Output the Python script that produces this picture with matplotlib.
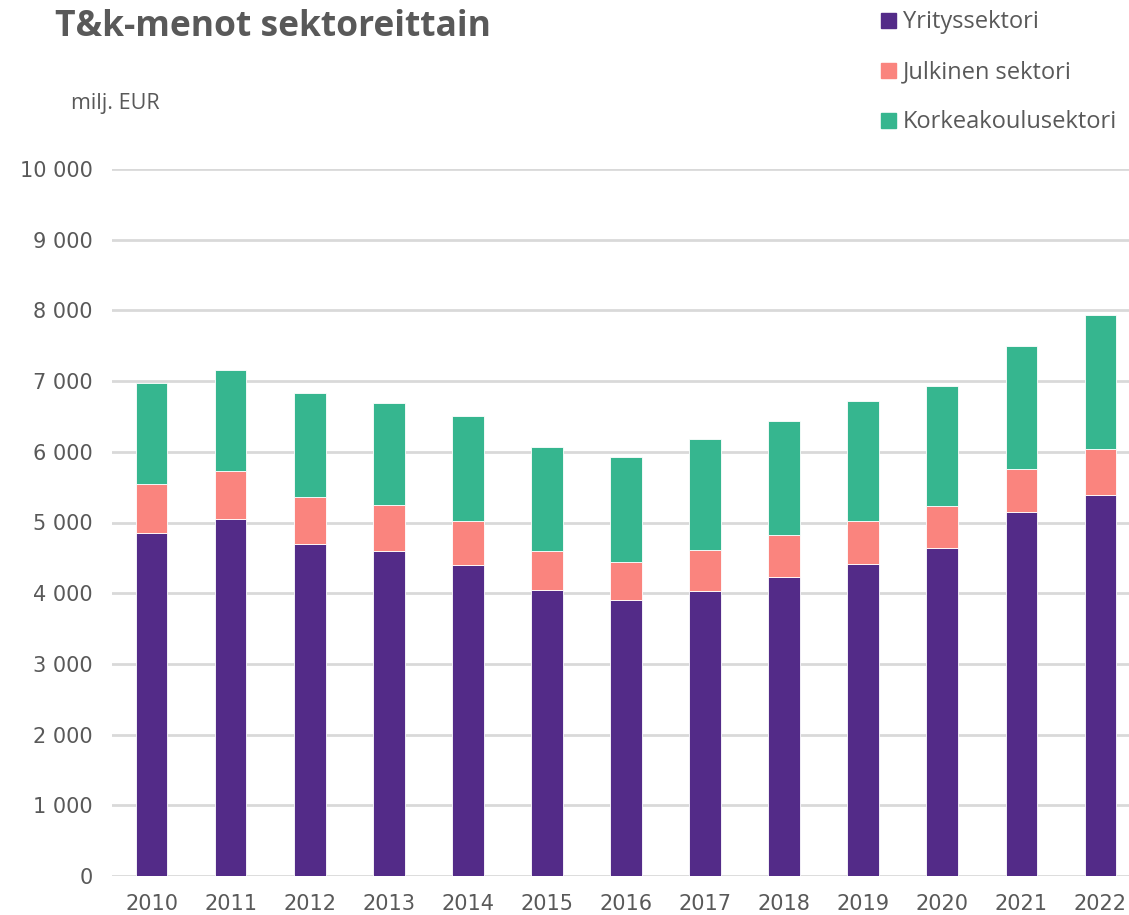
import numpy as np
from matplotlib import pyplot as plt
from matplotlib.patches import Patch
from matplotlib.ticker import FuncFormatter

years = ['2010', '2011', '2012', '2013', '2014', '2015', '2016',
         '2017', '2018', '2019', '2020', '2021', '2022']
yritys = [4856, 5045, 4696, 4601, 4399, 4045, 3904,
          4031, 4234, 4409, 4644, 5153, 5393]
julkinen = [693, 688, 665, 647, 622, 547, 533,
            580, 585, 612, 589, 608, 642]
korkeakoulu = [1424, 1428, 1471, 1437, 1490, 1476, 1489,
               1566, 1617, 1693, 1698, 1731, 1900]

c_yr = '#532B88'
c_ju = '#FA847E'
c_ko = '#36B68F'
txt = '#595959'

fig = plt.figure(figsize=(11.29, 9.15), dpi=100)
ax = fig.add_axes([112 / 1129, 39 / 915, 1028 / 1129, 707 / 915])

x = np.arange(len(years))
w = 0.4
yr = np.array(yritys)
ju = np.array(julkinen)
ko = np.array(korkeakoulu)
ax.bar(x, yr, w, color=c_yr, edgecolor='white', linewidth=0.6, zorder=3)
ax.bar(x, ju, w, bottom=yr, color=c_ju, edgecolor='white', linewidth=0.6, zorder=3)
ax.bar(x, ko, w, bottom=yr + ju, color=c_ko, edgecolor='white', linewidth=0.6, zorder=3)

ax.set_xlim(-0.5, 12.5)
ax.set_ylim(0, 10000)
ax.set_yticks(range(0, 10001, 1000))
ax.yaxis.set_major_formatter(FuncFormatter(lambda v, p: f'{int(v):,}'.replace(',', ' ')))
ax.set_xticks(x)
ax.set_xticklabels(years)
ax.tick_params(axis='both', length=0, labelsize=15, colors=txt)
ax.tick_params(axis='x', pad=13)
ax.tick_params(axis='y', pad=14)
ax.grid(axis='y', color='#D9D9D9', linewidth=2, zorder=0)
for s in ax.spines.values():
    s.set_visible(False)

fig.text(55 / 1129, 1 - 27 / 915, 'T&k-menot sektoreittain', fontsize=25.5,
         fontweight='bold', family='Open Sans', color=txt, va='center', ha='left')
fig.text(71 / 1129, 1 - 104 / 915, 'milj. EUR', fontsize=15.5,
         family='Open Sans', color=txt, va='center', ha='left')

handles = [Patch(color=c_yr), Patch(color=c_ju), Patch(color=c_ko)]
labels = ['Yrityssektori', 'Julkinen sektori', 'Korkeakoulusektori']
leg = fig.legend(handles, labels, loc='upper left', bbox_to_anchor=(872 / 1129, 1 - 1 / 915),
                 frameon=False, prop={'family': 'Open Sans', 'size': 17},
                 handlelength=0.6, handleheight=0.6, handletextpad=0.3,
                 labelspacing=1.1, borderaxespad=0)
for t in leg.get_texts():
    t.set_color(txt)

plt.savefig('out.png', dpi=100)
